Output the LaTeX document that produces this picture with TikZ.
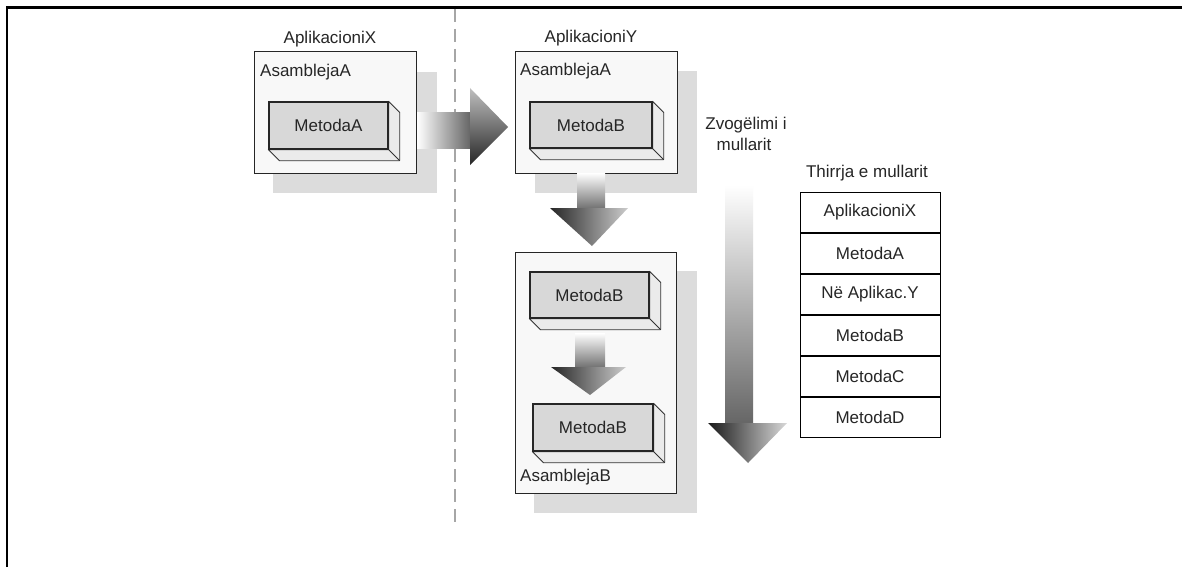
\documentclass[tikz,border=0pt]{standalone}
\usepackage{fontspec}
\setmainfont{Liberation Sans}
\usetikzlibrary{calc}
\definecolor{shadowgray}{HTML}{DCDCDC}
\definecolor{asmfill}{HTML}{F8F8F8}
\definecolor{frontfill}{HTML}{D8D8D8}
\definecolor{sidefill}{HTML}{EBEBEB}
\definecolor{txt}{HTML}{262626}
\begin{document}
\begin{tikzpicture}[x=1pt,y=-1pt,
  lbl/.style={font=\fontsize{17}{19}\selectfont, text=txt, inner sep=0pt},
  shadowbox/.style={fill=shadowgray, draw=none},
  asm/.style={draw=black!85, fill=asmfill, line width=1pt},
  front/.style={draw=black!85, fill=frontfill, line width=1.3pt, lbl},
  depth/.style={draw=black!80, fill=sidefill, line width=0.8pt, line join=round},
  cell/.style={draw=black, line width=1pt, minimum width=140pt, minimum height=40pt, lbl},
]
\useasboundingbox (0,0) rectangle (1182,567);
\fill[white] (0,0) rectangle (1182,567);

% frame and separator
\draw[line width=2.5pt] (7,567) -- (7,7.5) -- (1182,7.5);
\draw[gray!70, line width=1.4pt, dash pattern=on 13pt off 7pt] (455,9) -- (455,527);

% method box with depth faces: name, centre, width, height, text
\newcommand\metbox[6]{%
  \node[front, minimum width=#4pt, minimum height=#5pt] (#1) at (#2,#3) {#6};
  \filldraw[depth] (#1.north east) -- ++(11,11) -- ($(#1.south east)+(11,11)$)
     -- ($(#1.south west)+(11,11)$) -- (#1.south west) -- (#1.south east) -- cycle;
  \draw[black!80, line width=0.8pt] (#1.south east) -- ++(11,11);
  \node[front, minimum width=#4pt, minimum height=#5pt] at (#1) {#6};
}

% ---- AplikacioniX
\node[lbl] (appx) at (330,39) {AplikacioniX};
\fill[shadowbox] (273,72) rectangle (437,193);
\node[asm, minimum width=162pt, minimum height=122pt, anchor=north west] (asmxa) at (254,51) {};
\node[lbl, anchor=west] (asmxalbl) at (260,72) {AsamblejaA};
\metbox{ma}{328.5}{125.5}{119}{47}{MetodaA}

% ---- AplikacioniY
\node[lbl] (appy) at (591,38) {AplikacioniY};
\fill[shadowbox] (535,71) rectangle (697,193);
\node[asm, minimum width=162pt, minimum height=122pt, anchor=north west] (asmya) at (515,51) {};
\node[lbl, anchor=west] (asmyalbl) at (520,71) {AsamblejaA};
\metbox{mb1}{591}{125}{122}{46}{MetodaB}

% ---- AsamblejaB
\fill[shadowbox] (534,271) rectangle (697,513);
\node[asm, minimum width=161pt, minimum height=241pt, anchor=north west] (asmb) at (515,252) {};
\node[lbl, anchor=west] (asmblbl) at (520,477) {AsamblejaB};
\metbox{mb2}{589.5}{295}{119}{46}{MetodaB}
\metbox{mb3}{593}{427.5}{120}{47}{MetodaB}

% ---- arrows between boxes
% right arrow X -> Y
\shade[left color=white, right color=black!60] (asmxa.east |- 0,113) rectangle (470,148);
\shade[top color=black!25, bottom color=black!85] (470,88) -- (508,127) -- (470,165) -- cycle;
% down arrow AsamblejaA (Y) -> AsamblejaB
\shade[top color=white, bottom color=black!55] (577,173) rectangle (605,208);
\shade[left color=black!85, right color=black!20] (550,208) -- (628,208) -- (592,246) -- cycle;
% down arrow MetodaB -> MetodaB
\shade[top color=white, bottom color=black!55] (575,333) rectangle (605,367);
\shade[left color=black!85, right color=black!20] (551,367) -- (626,367) -- (590,395) -- cycle;

% ---- stack shrinking arrow
\node[lbl] (zvog1) at (746,125) {Zvogëlimi i};
\node[lbl] (zvog2) at (744,144) {mullarit};
\shade[top color=white, bottom color=black!60] (725,185) rectangle (753,423);
\shade[left color=black!90, right color=black!15] (708,423) -- (787,423) -- (748,463) -- cycle;

% ---- call stack
\node[lbl] (stacklbl) at (867,173) {Thirrja e mullarit};
\node[cell, anchor=north] (s1) at (870,192) {AplikacioniX};
\node[cell, anchor=north] (s2) at (s1.south) {MetodaA};
\node[cell, anchor=north] (s3) at (s2.south) {Në Aplikac.Y};
\node[cell, anchor=north] (s4) at (s3.south) {MetodaB};
\node[cell, anchor=north] (s5) at (s4.south) {MetodaC};
\node[cell, anchor=north] (s6) at (s5.south) {MetodaD};
\end{tikzpicture}
\end{document}
